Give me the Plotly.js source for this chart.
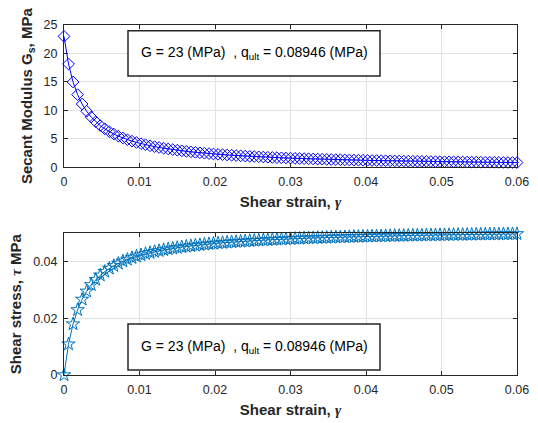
<!DOCTYPE html>
<html>
<head>
<meta charset="utf-8">
<script src="https://cdn.plot.ly/plotly-3.0.1.min.js"></script>
<style>html,body{margin:0;padding:0;background:#fff;}#chart{width:538px;height:423px;}</style>
</head>
<body>
<div id="chart"></div>
<script>
// Shear strain values (gamma), step 0.0006 from 0 to 0.06
const strain = [0,0.0006,0.0012,0.0018,0.0024,0.003,0.0036,0.0042,0.0048,0.0054,0.006,0.0066,0.0072,0.0078,0.0084,0.009,0.0096,0.0102,0.0108,0.0114,0.012,0.0126,0.0132,0.0138,0.0144,0.015,0.0156,0.0162,0.0168,0.0174,0.018,0.0186,0.0192,0.0198,0.0204,0.021,0.0216,0.0222,0.0228,0.0234,0.024,0.0246,0.0252,0.0258,0.0264,0.027,0.0276,0.0282,0.0288,0.0294,0.03,0.0306,0.0312,0.0318,0.0324,0.033,0.0336,0.0342,0.0348,0.0354,0.036,0.0366,0.0372,0.0378,0.0384,0.039,0.0396,0.0402,0.0408,0.0414,0.042,0.0426,0.0432,0.0438,0.0444,0.045,0.0456,0.0462,0.0468,0.0474,0.048,0.0486,0.0492,0.0498,0.0504,0.051,0.0516,0.0522,0.0528,0.0534,0.054,0.0546,0.0552,0.0558,0.0564,0.057,0.0576,0.0582,0.0588,0.0594,0.06];
// Secant modulus Gs (MPa)
const secantModulus = [23,18.150,14.990,12.767,11.118,9.846,8.836,8.013,7.331,6.756,6.264,5.839,5.468,5.142,4.852,4.593,4.360,4.150,3.959,3.785,3.626,3.479,3.344,3.219,3.103,2.995,2.894,2.800,2.712,2.629,2.551,2.478,2.408,2.343,2.281,2.222,2.166,2.113,2.062,2.014,1.968,1.924,1.882,1.842,1.803,1.766,1.731,1.696,1.664,1.632,1.602,1.573,1.544,1.517,1.491,1.465,1.441,1.417,1.394,1.372,1.351,1.330,1.309,1.290,1.271,1.252,1.234,1.217,1.200,1.183,1.167,1.152,1.137,1.122,1.107,1.093,1.080,1.066,1.053,1.040,1.028,1.016,1.004,0.992,0.981,0.970,0.959,0.949,0.938,0.928,0.918,0.909,0.899,0.890,0.881,0.872,0.863,0.855,0.846,0.838,0.830];
// Shear stress tau (MPa)
const shearStress = [0,0.010890,0.017988,0.022981,0.026683,0.029539,0.031809,0.033655,0.035188,0.036480,0.037584,0.038538,0.039371,0.040106,0.040754,0.041337,0.041856,0.042330,0.042757,0.043149,0.043512,0.043835,0.044141,0.044422,0.044683,0.044925,0.045146,0.045360,0.045562,0.045745,0.045918,0.046091,0.046234,0.046391,0.046532,0.046662,0.046786,0.046909,0.047014,0.047128,0.047232,0.047330,0.047426,0.047524,0.047599,0.047682,0.047776,0.047827,0.047923,0.047981,0.048060,0.048134,0.048173,0.048241,0.048308,0.048345,0.048418,0.048461,0.048511,0.048569,0.048636,0.048678,0.048695,0.048762,0.048806,0.048828,0.048866,0.048923,0.048960,0.048976,0.049014,0.049075,0.049118,0.049144,0.049151,0.049185,0.049248,0.049249,0.049280,0.049296,0.049344,0.049378,0.049397,0.049402,0.049442,0.049470,0.049484,0.049538,0.049526,0.049555,0.049572,0.049631,0.049625,0.049662,0.049688,0.049704,0.049709,0.049761,0.049745,0.049777,0.049800];
const xTicks = [0,0.01,0.02,0.03,0.04,0.05,0.06];
const xTickLabels = ['0','0.01','0.02','0.03','0.04','0.05','0.06'];
const topYTicks = [0,5,10,15,20,25];
const bottomYTicks = [0,0.02,0.04];
const bottomYTickLabels = ['0','0.02','0.04'];
const infoText = 'G = 23 (MPa)  , q<sub>ult</sub> = 0.08946 (MPa)';

const W = 538, H = 423;
const px = x => x / W;
const py = y => 1 - y / H;

const FONT = 'Liberation Sans, Arial, sans-serif';
const SERIF = 'Liberation Serif, Times New Roman, serif';
const AX = '#262626';

const traces = [
  {x: strain, y: secantModulus, xaxis: 'x', yaxis: 'y', mode: 'lines+markers', type: 'scatter', cliponaxis: false,
   line: {color: '#0000ff', width: 1},
   marker: {symbol: 'diamond-open', size: 9, color: '#0000ff', line: {width: 1, color: '#0000ff'}}},
  {x: strain, y: shearStress, xaxis: 'x2', yaxis: 'y2', mode: 'lines+markers', type: 'scatter', cliponaxis: false,
   line: {color: '#0072bd', width: 1},
   marker: {symbol: 'star-open', size: 10, color: '#0072bd', line: {width: 1, color: '#0072bd'}}}
];

const commonX = {
  range: [0, 0.06], tickvals: xTicks, ticktext: xTickLabels,
  showline: true, linecolor: AX, linewidth: 1, mirror: 'ticks',
  ticks: 'inside', ticklen: 4, tickcolor: AX,
  showgrid: true, gridcolor: '#e3e3e3', gridwidth: 1, zeroline: false,
  tickfont: {family: FONT, size: 12.5, color: AX},
  domain: [px(64), px(517)], fixedrange: true, ticklabelstandoff: 3
};
const commonY = {
  showline: true, linecolor: AX, linewidth: 1, mirror: 'ticks',
  ticks: 'inside', ticklen: 4, tickcolor: AX,
  showgrid: true, gridcolor: '#e3e3e3', gridwidth: 1, zeroline: false,
  tickfont: {family: FONT, size: 12.5, color: AX}, fixedrange: true, ticklabelstandoff: 3
};
const titleFont = {family: FONT, size: 15, color: AX, weight: 'bold'};
const gammaTitle = '<b>Shear strain, </b><span style="font-family:' + SERIF + '"><i>γ</i></span>';

const layout = {
  width: W, height: H,
  margin: {l: 0, r: 0, t: 0, b: 0},
  paper_bgcolor: '#fff', plot_bgcolor: '#fff',
  showlegend: false,
  xaxis: Object.assign({}, commonX, {anchor: 'y',
    title: {text: gammaTitle, font: titleFont, standoff: 8}}),
  yaxis: Object.assign({}, commonY, {anchor: 'x', range: [0, 25], tickvals: topYTicks,
    domain: [py(167.3), py(25)],
    title: {text: '<b>Secant Modulus G<sub>s</sub>, MPa</b>', font: titleFont, standoff: 7}}),
  xaxis2: Object.assign({}, commonX, {anchor: 'y2',
    title: {text: gammaTitle, font: titleFont, standoff: 8}}),
  yaxis2: Object.assign({}, commonY, {anchor: 'x2', range: [0, 0.05], tickvals: bottomYTicks, ticktext: bottomYTickLabels,
    domain: [py(375), py(233.3)],
    title: {text: '<b>Shear stress, </b><span style="font-family:' + SERIF + '"><i>τ</i></span><b> MPa</b>', font: titleFont, standoff: 7}}),
  shapes: [
    {type: 'rect', xref: 'paper', yref: 'paper', x0: px(128), x1: px(380), y0: py(76), y1: py(30.7),
     line: {color: AX, width: 1.5}, fillcolor: '#fff', layer: 'above'},
    {type: 'rect', xref: 'paper', yref: 'paper', x0: px(128), x1: px(380), y0: py(370), y1: py(324),
     line: {color: AX, width: 1.5}, fillcolor: '#fff', layer: 'above'}
  ],
  annotations: [
    {xref: 'paper', yref: 'paper', x: px(254), y: py(53), text: infoText, showarrow: false,
     xanchor: 'center', yanchor: 'middle', font: {family: FONT, size: 14, color: '#000'}},
    {xref: 'paper', yref: 'paper', x: px(254), y: py(347), text: infoText, showarrow: false,
     xanchor: 'center', yanchor: 'middle', font: {family: FONT, size: 14, color: '#000'}}
  ]
};

Plotly.newPlot('chart', traces, layout, {displayModeBar: false, staticPlot: true});
</script>
</body>
</html>
